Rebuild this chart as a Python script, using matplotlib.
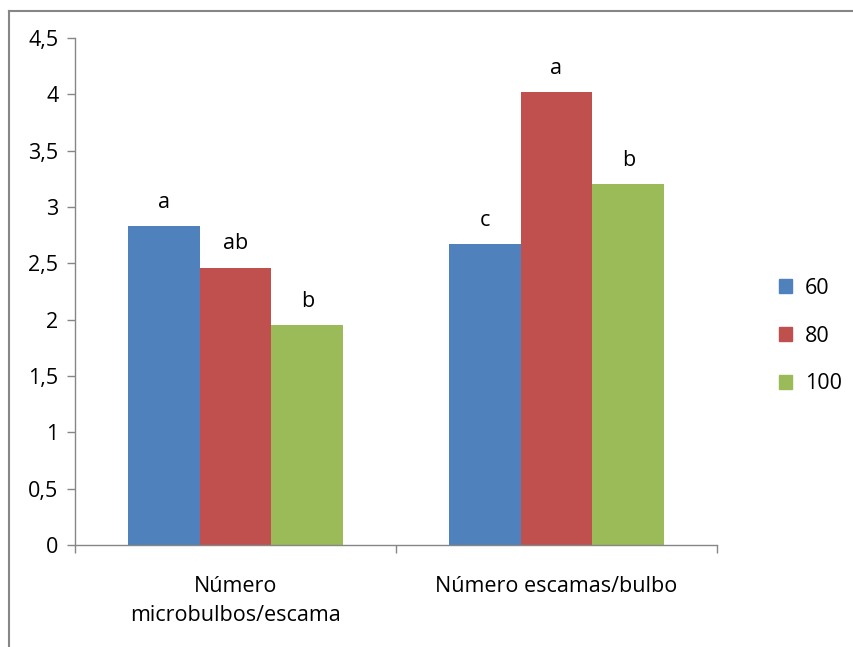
import matplotlib
matplotlib.use("Agg")
import matplotlib.pyplot as plt
from matplotlib.lines import Line2D
from matplotlib.patches import Patch
import numpy as np

categories = ["Número\nmicrobulbos/escama", "Número escamas/bulbo"]
series_names = ["60", "80", "100"]
values_60 = [2.83, 2.67]
values_80 = [2.46, 4.02]
values_100 = [1.95, 3.20]
letters_60 = ["a", "c"]
letters_80 = ["ab", "a"]
letters_100 = ["b", "b"]
yticks = [0, 0.5, 1, 1.5, 2, 2.5, 3, 3.5, 4, 4.5]
ytick_labels = ["0", "0,5", "1", "1,5", "2", "2,5", "3", "3,5", "4", "4,5"]

colors = ["#4F81BD", "#C0504D", "#9BBB59"]
plt.rcParams['font.family'] = ['Open Sans', 'DejaVu Sans']
FS = 15.5

W, H = 854, 647
fig = plt.figure(figsize=(W / 100, H / 100), dpi=100)
ax = fig.add_axes([75 / W, 1 - 545 / H, (717 - 75) / W, (545 - 38) / H])

x = np.arange(len(categories)) + 0.5
bw = 0.224
all_vals = [values_60, values_80, values_100]
all_letters = [letters_60, letters_80, letters_100]
for i, (vals, lets) in enumerate(zip(all_vals, all_letters)):
    pos = x + (i - 1) * bw
    ax.bar(pos, vals, width=bw, color=colors[i], label=series_names[i])
    for p, v, l in zip(pos, vals, lets):
        ax.text(p, v + 0.12, l, ha="center", va="bottom", fontsize=FS)

ax.set_xlim(0, 2)
ax.set_ylim(0, 4.5)
ax.set_yticks(yticks)
ax.set_yticklabels(ytick_labels, fontsize=FS)
ax.set_xticks([0, 1, 2])
ax.set_xticklabels([])
ax.set_xticks(x, minor=True)
ax.set_xticklabels(categories, minor=True, fontsize=FS, linespacing=1.55)
ax.tick_params(axis="x", which="minor", length=0, pad=22)
ax.tick_params(axis="x", which="major", length=6, color="#868686", width=1)
ax.tick_params(axis="y", length=6, color="#868686", width=1, pad=6)
for s in ["top", "right"]:
    ax.spines[s].set_visible(False)
for s in ["left", "bottom"]:
    ax.spines[s].set_color("#868686")
    ax.spines[s].set_linewidth(1)

handles = [Patch(color=c) for c in colors]
ax.legend(handles, series_names, loc="center left", bbox_to_anchor=(760 / W, 1 - 336 / H),
          bbox_transform=fig.transFigure, frameon=False, fontsize=FS,
          handlelength=0.6, handleheight=0.6, labelspacing=1.25, handletextpad=0.6)

# chart border (left and top visible)
fig.add_artist(Line2D([9 / W, 9 / W], [0, 1 - 11 / H], transform=fig.transFigure, color="#868686", lw=1.5))
fig.add_artist(Line2D([9 / W, 1], [1 - 11 / H, 1 - 11 / H], transform=fig.transFigure, color="#868686", lw=1.5))

fig.savefig("out.png", dpi=100)
